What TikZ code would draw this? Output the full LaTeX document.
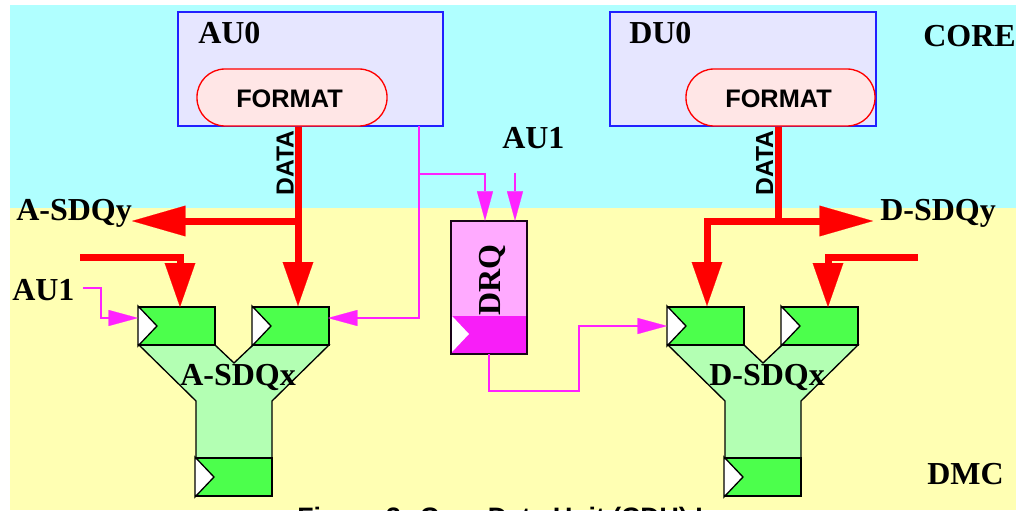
\documentclass[tikz,border=0pt]{standalone}
\usepackage{fontspec}
\setmainfont{Liberation Serif}
\setsansfont{Liberation Sans}
\usetikzlibrary{arrows.meta,fit,calc}
\definecolor{cyanbg}{HTML}{B0FFFF}
\definecolor{yellowbg}{HTML}{FFFFB3}
\definecolor{lav}{HTML}{E6E6FF}
\definecolor{boxblue}{HTML}{2020FF}
\definecolor{pillfill}{HTML}{FFE6E6}
\definecolor{regreen}{HTML}{4CFF4C}
\definecolor{ylight}{HTML}{B3FFB3}
\definecolor{mag}{HTML}{FF22FF}
\definecolor{drqlight}{HTML}{FFAAFF}
\definecolor{drqdark}{HTML}{F81EF8}
\newcommand\clocktri[1]{\filldraw[clk] (#1.north west) -- ($(#1.west)+(19,0)$) -- (#1.south west) -- cycle;}
\newcommand\sdqunit[3]{%
  \filldraw[ybody] ({139+#2},345) -- ({196+#2},401) -- ({196+#2},458) -- ({272+#2},458) -- ({272+#2},401) -- ({329+#2},345) -- ({253+#2},345) -- ({234+#2},363) -- ({215+#2},345) -- cycle;
  \node[reg, fit={({139+#2},307) ({215+#2},345)}] (#1L) {};
  \node[reg, fit={({253+#2},307) ({329+#2},345)}] (#1R) {};
  \node[reg, fit={({196+#2},458) ({272+#2},496)}] (#1B) {};
  \clocktri{#1L}\clocktri{#1R}\clocktri{#1B}
  \node[bigtxt, anchor=base west] (#1name) at ({180+#2},385) {#3};
}
\begin{document}
\begin{tikzpicture}[x=0.75pt,y=-0.75pt,
  unitbox/.style={draw=boxblue, fill=lav, line width=1.2pt, inner sep=0pt},
  pillbox/.style={draw=red, fill=pillfill, line width=1pt, rounded corners=21pt, inner sep=0pt},
  reg/.style={draw=black, fill=regreen, line width=1.5pt, inner sep=0pt},
  clk/.style={fill=white, draw=black, line width=1pt},
  ybody/.style={fill=ylight, draw=black, line width=1pt},
  bigtxt/.style={font=\bfseries\fontsize{24}{28}\selectfont, inner sep=0pt},
  fmttxt/.style={font=\sffamily\bfseries\fontsize{19}{22}\selectfont, inner sep=0pt},
  datatxt/.style={font=\sffamily\bfseries\fontsize{18.5}{21}\selectfont, inner sep=0pt, rotate=90},
  redbus/.style={draw=red, line width=5.25pt},
  redtipV/.style={-{Triangle[length=33pt,width=23pt,line width=0.1pt]}},
  redtipH/.style={-{Triangle[length=40pt,width=23pt,line width=0.1pt]}},
  magline/.style={draw=mag, line width=1.5pt},
  magtip/.style={-{Triangle[length=22pt,width=12pt,line width=0.1pt]}}]
\useasboundingbox (0,0) rectangle (1016,510);
% backgrounds
\fill[white] (0,0) rectangle (1016,510);
\fill[cyanbg] (10,5) rectangle (1016,208);
\fill[yellowbg] (10,208) rectangle (1016,510);
% region labels
\node[bigtxt, anchor=base west] (core) at (923,47) {CORE};
\node[bigtxt, anchor=base west] (dmc) at (927,484) {DMC};
% units
\node[unitbox, fit={(178,12) (443,126)}] (au0) {};
\node[unitbox, fit={(610,12) (876,126)}] (du0) {};
\node[bigtxt, anchor=base west] (au0name) at (198,44) {AU0};
\node[bigtxt, anchor=base west] (du0name) at (629,44) {DU0};
\node[pillbox, fit={(197,69) (387,126)}] (fmtA) {};
\node[pillbox, fit={(686,69) (875,126)}] (fmtD) {};
\node[fmttxt, anchor=base west] (fmtAtxt) at (236,107) {FORMAT};
\node[fmttxt, anchor=base west] (fmtDtxt) at (725,107) {FORMAT};
% SDQx units
\sdqunit{a}{0}{A-SDQx}
\sdqunit{d}{529}{D-SDQx}
% DRQ
\node[fill=drqlight, inner sep=0pt, fit={(451,221) (527,354)}] (drq) {};
\fill[drqdark] (451,316) rectangle (527,354);
\filldraw[clk, draw=none] (452,316) -- (469,334) -- (452,352) -- cycle;
\draw[line width=1.5pt, draw=black!90!mag] (drq.south west) rectangle (drq.north east);
\node[bigtxt, rotate=90, anchor=base west] (drqname) at (500,316) {DRQ};
% coordinates
\coordinate (jA) at (298,221);
\coordinate (ayTip) at (132,221);
\coordinate (aFeed) at (80,257);
\coordinate (aFeedTip) at (180,307);
\coordinate (jD) at (778,221);
\coordinate (dyTip) at (873,221);
\coordinate (dLcorner) at (707,221);
\coordinate (dFeed) at (918,257);
\coordinate (dFeedTip) at (828,307);
\coordinate (au1L) at (83,288);
\coordinate (tapA) at (419,126);
\coordinate (brA) at (419,174);
\coordinate (au1M) at (515,173);
\coordinate (dbend) at (579,326);
% red buses
\draw[redbus,redtipV] (fmtA.south -| jA) -- (aR.north -| jA);
\draw[redbus,redtipH] (jA) -- (ayTip);
\draw[redbus,redtipV,line join=miter] (aFeed) -| (aFeedTip);
\draw[redbus] (fmtD.south -| jD) -- (jD);
\draw[redbus,redtipH] (jD) -- (dyTip);
\draw[redbus,redtipV,line join=miter] (jD) -| (dL.north -| dLcorner);
\draw[redbus,redtipV,line join=miter] (dFeed) -| (dFeedTip);
% magenta control lines
\draw[magline,magtip] (au1L) -- ++(18,0) |- ($(aL.west)+(0,-8)$);
\draw[magline,magtip] (tapA) |- ($(aR.east)+(-2,-8)$);
\draw[magline,magtip] (brA) -| ($(drq.north)+(-4,0)$);
\draw[magline,magtip] (au1M) -- (au1M |- drq.north);
\draw[magline,magtip] (drq.south) -- ++(0,37) -| (dbend) -- (dL.west);
% labels
\node[datatxt, anchor=base west] (dataA) at (293.5,196) {DATA};
\node[datatxt, anchor=base west] (dataD) at (773,196) {DATA};
\node[bigtxt, anchor=base west] (asdqy) at (16,220) {A-SDQy};
\node[bigtxt, anchor=base west] (dsdqy) at (880,220) {D-SDQy};
\node[bigtxt, anchor=base west] (au1left) at (12,300) {AU1};
\node[bigtxt, anchor=base west] (au1mid) at (502,148) {AU1};
\node[font=\sffamily\bfseries\fontsize{20}{24}\selectfont, inner sep=0pt, anchor=base west] (caption) at (297,526.5) {Figure 3: Core Data Unit (CDU) L};
\end{tikzpicture}
\end{document}
